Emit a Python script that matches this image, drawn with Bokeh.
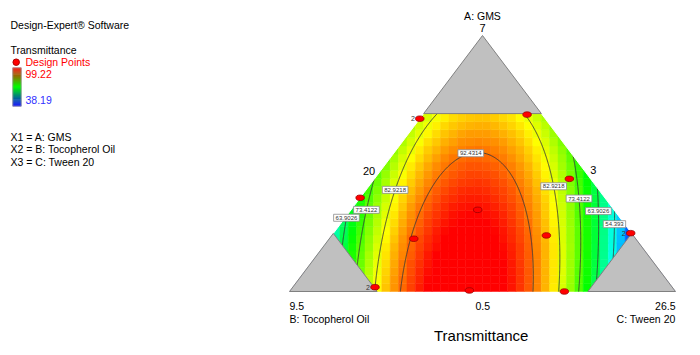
import numpy as np
from bokeh.plotting import figure
from bokeh.models import Range1d, ColumnDataSource, LinearColorMapper
from bokeh.embed import file_html
from bokeh.resources import INLINE
from bokeh.core.properties import value

# ---------------- data ----------------
levels = [54.393, 63.9026, 73.4122, 82.9218, 92.4314]
level_labels = ["54.393", "63.9026", "73.4122", "82.9218", "92.4314"]
resp_low, resp_high = 38.19, 99.22

# fitted response surface, in simplex coords a,b,c:
# response = peak(a) - curv(a) * (c - b - shift(a))**2
peak_coef = [102.7, -4.74, -26.1]
curv_coef = [87.0, -15.0]
shift_coef = [-0.082, 0.105]

# constraint limits (fractions of A, B, C)
a_max = 0.695
b_max = 0.773
c_max = 0.773

# design points (fractions of A and C; B = 1 - A - C) and replicate counts
pts_a = [0.675, 0.691, 0.366, 0.206, 0.319, 0.017, 0.004, 0.440, 0.219, 0.000, 0.228]
pts_c = [0.000, 0.270, 0.000, 0.219, 0.328, 0.213, 0.464, 0.505, 0.556, 0.712, 0.770]
pts_rep = [2, 1, 1, 1, 1, 2, 1, 1, 1, 1, 2]

# contour labels: level index, A fraction where the label sits, branch side
lab_level = [0, 1, 1, 2, 2, 3, 3, 4]
lab_a = [0.263, 0.288, 0.314, 0.319, 0.363, 0.397, 0.411, 0.540]
lab_side = [1, -1, 1, -1, 1, -1, 1, -1]

vertex_values = ["7", "9.5", "26.5"]
edge_values = ["20", "3", "0.5"]
factor_names = ["A: GMS", "B: Tocopherol Oil", "C: Tween 20"]
response_name = "Transmittance"


def model_parts(a):
    P = peak_coef[0] + peak_coef[1] * a + peak_coef[2] * a ** 2
    K = curv_coef[0] + curv_coef[1] * a
    d0 = shift_coef[0] + shift_coef[1] * a
    return P, K, d0


def response(X, Y):
    # X = c + a/2 (horizontal), Y = a ; c - b = 2X - 1
    P, K, d0 = model_parts(Y)
    d = 2 * X - 1
    return P - K * (d - d0) ** 2


# ---------------- layout mapping ----------------
FONT = value("Liberation Sans")
X0, XS = 289.0, 386.0   # page x of B vertex, base width in px
Y0, YS = 291.0, 256.0   # page y of base, triangle height in px
OFF = 0                 # page offset of the canvas
W, H = 700, 355


def dx(px):
    return (px - X0) / XS


def dy(py):
    return (Y0 - py) / YS


p = figure(width=W, height=H, x_range=Range1d(dx(OFF), dx(OFF + W)),
           y_range=Range1d(dy(OFF + H), dy(OFF)), output_backend="svg",
           toolbar_location=None, x_axis_location=None, y_axis_location=None,
           min_border=0, outline_line_color=None)
p.grid.visible = False
p.background_fill_color = "white"
p.border_fill_color = "white"

# palette blue-cyan-green-yellow-red
stops = [(0, 0, 255), (0, 255, 255), (0, 255, 0), (255, 255, 0), (255, 0, 0)]
pal = []
for i in range(256):
    t = i / 255 * (len(stops) - 1)
    k = min(int(t), len(stops) - 2)
    f = t - k
    r, g, b = [round(stops[k][j] + (stops[k + 1][j] - stops[k][j]) * f) for j in range(3)]
    pal.append("#%02x%02x%02x" % (r, g, b))
mapper = LinearColorMapper(palette=pal, low=resp_low, high=resp_high)

# cells
nx, ny = 46, 22
xe = np.linspace(0, 1, nx + 1)
ye = np.linspace(0, a_max, ny + 1)
L, B = np.meshgrid(xe[:-1], ye[:-1])
R, T = np.meshgrid(xe[1:], ye[1:])
Z = response((L + R) / 2, (B + T) / 2)
cells = ColumnDataSource(dict(left=L.ravel(), right=R.ravel(), bottom=B.ravel(),
                              top=T.ravel(), z=Z.ravel()))
p.quad(left="left", right="right", bottom="bottom", top="top", source=cells,
       fill_color={"field": "z", "transform": mapper},
       line_color={"field": "z", "transform": mapper}, line_width=0.5)

# contour lines
xg = np.linspace(0, 1, 301)
yg = np.linspace(0, a_max, 211)
Zg = response(*np.meshgrid(xg, yg))
p.contour(xg, yg, Zg, levels=levels, line_color="#3a3a3a", line_width=0.9)

# white masks outside the simplex
p.patches(xs=[[-0.2, 0.0, 0.5, -0.2], [1.2, 1.0, 0.5, 1.2]],
          ys=[[0, 0, 1, 1], [0, 0, 1, 1]],
          fill_color="white", line_color="white", line_width=1)

# gray infeasible corners
gx = [[0.5, a_max / 2, 1 - a_max / 2],
      [0.0, (1 - b_max) / 2, 1 - b_max],
      [1.0, c_max + (1 - c_max) / 2, c_max]]
gy = [[1.0, a_max, a_max],
      [0.0, 1 - b_max, 0.0],
      [0.0, 1 - c_max, 0.0]]
p.patches(xs=gx, ys=gy, fill_color="#c0c0c0", line_color="#808080", line_width=1)

# contour labels
lx, ly, lt, lw = [], [], [], []
for li, a, side in zip(lab_level, lab_a, lab_side):
    P, K, d0 = model_parts(a)
    half = np.sqrt(max(P - levels[li], 0) / K)
    d = d0 + side * half
    lx.append((1 + d) / 2)
    ly.append(a)
    txt = level_labels[li]
    lt.append(txt)
    lw.append(6 * (0.556 * (len(txt) - 1) + 0.278) + 4)
lsrc = ColumnDataSource(dict(x=lx, y=ly, t=lt, w=lw))
p.rect(x="x", y="y", width="w", height=7, width_units="screen", height_units="screen",
       source=lsrc, fill_color="white", line_color="#8c8c8c", line_width=0.8)
p.text(x="x", y="y", text="t", source=lsrc, text_align="center", text_baseline="middle",
       text_font_size="6px", text_font=FONT, text_color="#333333")

# design points
pa = np.array(pts_a)
pc = np.array(pts_c)
px_ = pc + pa / 2
py_ = pa
p.ellipse(x=px_, y=py_, width=8.5, height=5.5, width_units="screen", height_units="screen",
          fill_color="#ff0000", line_color="#9a0000", line_width=0.8)
rx = [x for x, r in zip(px_, pts_rep) if r > 1]
ry = [y for y, r in zip(py_, pts_rep) if r > 1]
rt = [str(r) for r in pts_rep if r > 1]
p.text(x=rx, y=ry, text=rt, x_offset=-5, text_align="right", text_baseline="middle",
       text_font_size="7px", text_font=FONT, text_color="#333333")


def put(pxp, pyp, txt, size="10.5px", color="#000000", align="left"):
    p.text(x=[dx(pxp)], y=[dy(pyp)], text=[txt], text_align=align, text_baseline="middle",
           text_font_size=size, text_font=FONT, text_color=color)


# axis texts
put(482, 15.8, factor_names[0], align="center")
put(482, 27.5, vertex_values[0], size="11px", align="center")
put(368.5, 170, edge_values[0], size="11px", align="center")
put(592.7, 169.5, edge_values[1], size="11px", align="center")
put(289, 305.5, vertex_values[1])
put(482.3, 305.5, edge_values[2], align="center")
put(675, 305.5, vertex_values[2], align="right")
put(289, 318.8, factor_names[1])
put(675, 318.8, factor_names[2], align="right")
put(480.7, 335, response_name, size="15px", align="center")

# left legend
put(10, 24.2, "Design-Expert® Software")
put(10, 49, response_name)
p.scatter(x=[dx(15.7)], y=[dy(61.7)], size=6.5, fill_color="#ff0000", line_color="#b00000")
put(25, 61.7, "Design Points", color="#ff0000")
# gradient bar
n = 38
top_px, bot_px = 67.3, 105.7
gl, gr, gt, gb, gc = [], [], [], [], []
for i in range(n):
    t = (i + 0.5) / n
    if t < 0.5:
        f = t / 0.5
        col = (255 * (1 - f), 255 * f, 0)
    else:
        f = (t - 0.5) / 0.5
        col = (0, 255 * (1 - f), 255 * f)
    y1 = top_px + (bot_px - top_px) * i / n
    y2 = top_px + (bot_px - top_px) * (i + 1) / n
    gl.append(dx(12.3)); gr.append(dx(20.7)); gt.append(dy(y1)); gb.append(dy(y2))
    gc.append("#%02x%02x%02x" % tuple(int(round(v)) for v in col))
p.quad(left=gl, right=gr, top=gt, bottom=gb, fill_color=gc, line_color=gc, line_width=0.3)
p.quad(left=[dx(12.3)], right=[dx(20.7)], top=[dy(top_px)], bottom=[dy(bot_px)],
       fill_color=None, line_color="#9a9a9a", line_width=0.8)
put(25, 73.5, "%.2f" % resp_high, color="#ff0000")
put(25, 99, "%.2f" % resp_low, color="#3030ff")
put(10, 136, "X1 = " + factor_names[0])
put(10, 148.5, "X2 = " + factor_names[1])
put(10, 161, "X3 = " + factor_names[2])

open("out.html", "w").write(file_html(p, INLINE))
